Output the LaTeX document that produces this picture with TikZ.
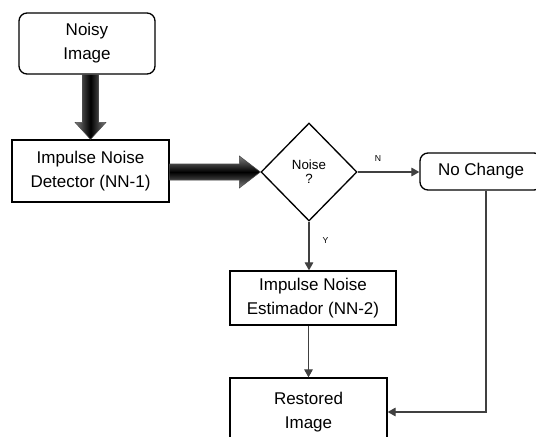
\documentclass[tikz,border=0pt]{standalone}
\usepackage{fontspec}
\setmainfont{Liberation Sans}
\usetikzlibrary{shapes.geometric,arrows.meta,calc}
\definecolor{lnclr}{RGB}{64,64,64}
\definecolor{arrgray}{RGB}{125,125,125}

\begin{document}
\begin{tikzpicture}[x=0.75pt,y=0.75pt,yscale=-1,xscale=1,
  box/.style={draw,line width=1pt,align=center,inner sep=0pt,font=\fontsize{12.75}{18}\selectfont},
  rbox/.style={box,rounded corners=6pt},
  flow/.style={draw=lnclr,line width=0.8pt,-{Triangle[length=6pt,width=6.5pt]}},
  vfat/.style={left color=arrgray,right color=arrgray,middle color=black,draw=arrgray!60!black,line width=0.4pt},
  hfat/.style={top color=arrgray,bottom color=arrgray,middle color=black,draw=arrgray!60!black,line width=0.4pt},
  lbl/.style={font=\fontsize{6.5}{8}\selectfont,inner sep=0.75pt}]
\useasboundingbox (0,0) rectangle (536,436);
\clip (0,0) rectangle (536,436);

% Boxes
\node [rbox,minimum width=102pt,minimum height=45.75pt] (noisy) at (87,43.5) {Noisy\\Image};
\node [box,minimum width=117.75pt,minimum height=46.5pt] (det) at (90.5,171) {Impulse Noise\\Detector (NN-1)};
\node [draw,diamond,line width=1pt,minimum width=72pt,minimum height=73.5pt,inner sep=0pt,align=center,font=\fontsize{10}{10.5}\selectfont] (noise) at (309,172) {Noise\\?};
\node [rbox,minimum width=91.5pt,minimum height=27.75pt] (nochg) at (481,171.5) {No Change};
\node [box,minimum width=124.5pt,minimum height=40.5pt] (est) at (313,298) {Impulse Noise\\Estimador (NN-2)};
\node [box,minimum width=117.75pt,minimum height=51pt] (rest) at (308.5,412) {Restored\\Image};

% Fat arrows
\shadedraw [vfat] ($(det.north |- noisy.south)+(-8,0)$) -- ($(det.north)+(-8,-17)$) -- ($(det.north)+(-15.5,-17)$) -- (det.north) -- ($(det.north)+(15.5,-17)$) -- ($(det.north)+(8,-17)$) -- ($(det.north |- noisy.south)+(8,0)$) -- cycle;
\shadedraw [hfat] ($(det.east |- noise.west)+(0,-8)$) -- ($(noise.west)+(-21,-8)$) -- ($(noise.west)+(-21,-16)$) -- (noise.west) -- ($(noise.west)+(-21,16)$) -- ($(noise.west)+(-21,8)$) -- ($(det.east |- noise.west)+(0,8)$) -- cycle;

% Connectors
\draw [flow] (noise.east) -- (nochg.west |- noise.east) node [lbl,pos=0.33,above=7pt] {N};
\draw [flow] (noise.south) -- (noise.south |- est.north) node [lbl,pos=0.38,right=9pt] {Y};
\draw [flow] (rest.north |- est.south) -- (rest.north);
\draw [flow] ($(nochg.south)+(5,0)$) |- (rest.east);

\end{tikzpicture}
\end{document}
